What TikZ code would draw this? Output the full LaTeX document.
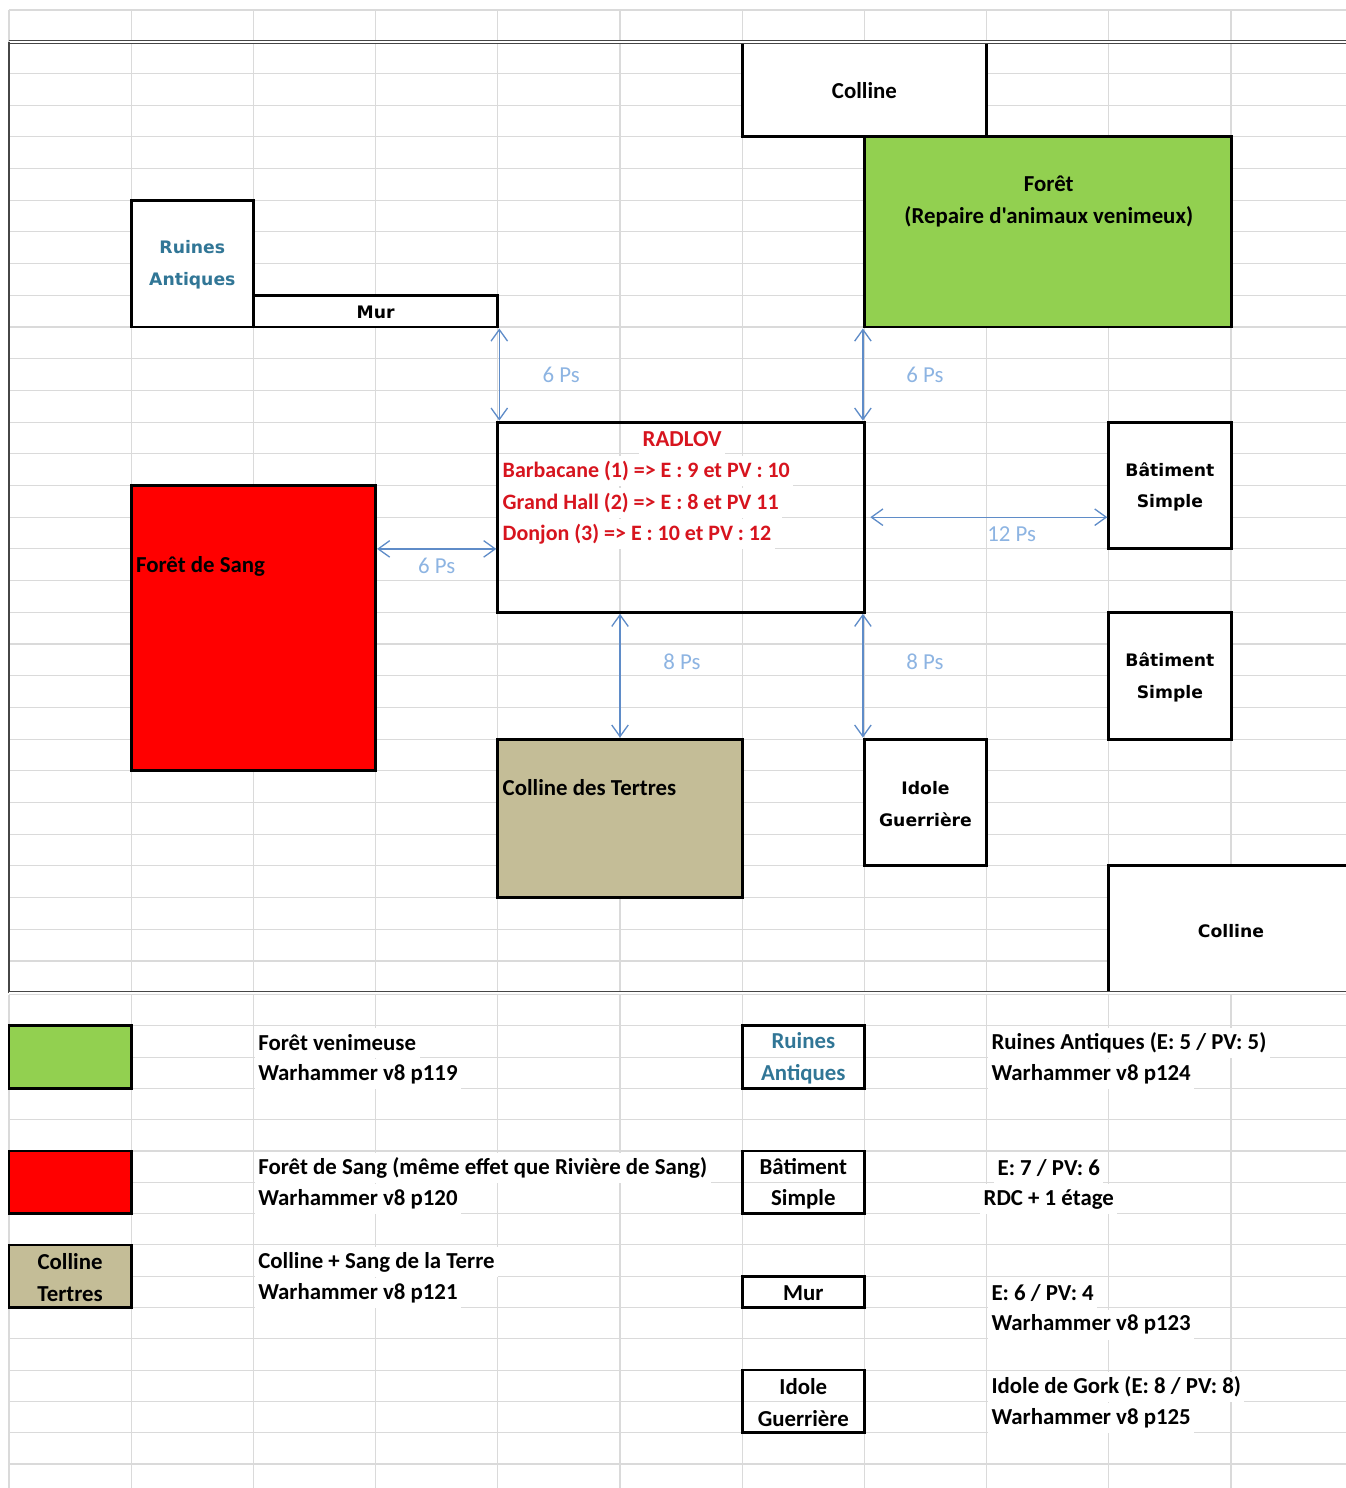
\documentclass[tikz,border=0pt]{standalone}
\usepackage{fontspec}
\setmainfont{Carlito}[Ligatures=TeXOff]
\newfontfamily\verdfont{DejaVu Sans}
\usepackage{tikz}
\usetikzlibrary{arrows.meta,positioning,fit,calc}
\definecolor{gridgray}{RGB}{218,218,218}
\definecolor{framegray}{RGB}{70,70,70}
\definecolor{foretvert}{RGB}{146,208,80}
\definecolor{sangrouge}{RGB}{255,0,0}
\definecolor{tertresbeige}{RGB}{196,189,151}
\definecolor{ruinesblue}{RGB}{49,118,150}
\definecolor{radlovred}{RGB}{215,20,30}
\definecolor{arrowblue}{RGB}{95,140,200}
\definecolor{psblue}{RGB}{141,180,226}
\newcommand{\calBold}{\fontsize{13}{18.1}\selectfont\bfseries}
\newcommand{\calReg}{\fontsize{13}{18.1}\selectfont}
\newcommand{\radlovFont}{\fontsize{12.5}{18.1}\selectfont\bfseries}
\newcommand{\verdBold}{\verdfont\fontsize{9.8}{18.1}\selectfont\bfseries}

\begin{document}
\begin{tikzpicture}[x=2.444cm, y=-0.634cm,
		gridline/.style={draw=gridgray, line width=0.6pt, xstep=2.444cm, ystep=0.634cm},
		frameline/.style={draw=framegray, line width=0.65pt},
		terrain/.style={draw=black, line width=1.7pt, inner sep=0pt},
		merged/.style={terrain, fill=white},
		legbox/.style={draw=black, line width=1.5pt, inner sep=0pt},
		shapeText/.style={align=center, font=\verdBold, inner sep=0pt, yshift=-0.8pt},
		legText/.style={align=center, font=\calBold, inner sep=0pt, yshift=-0.8pt},
		cellText/.style={fill=white, inner xsep=2pt, inner ysep=0pt, minimum height=0.6cm, font=\calBold, xshift=0.6pt, yshift=-0.8pt},
		plainText/.style={inner xsep=2pt, inner ysep=0pt, font=\calBold, xshift=0.6pt, yshift=-0.8pt},
		dist/.style={draw=arrowblue, line width=0.75pt, {Straight Barb[length=2.3mm,width=3.3mm]}-{Straight Barb[length=2.3mm,width=3.3mm]}},
		distLabel/.style={text=psblue, font=\calReg, inner sep=0pt},
		]
		
		\useasboundingbox (-0.18cm,0.2cm) rectangle (26.72cm,-29.56cm);
		
		% sheet grid
		\draw[gridline] (0,31) grid (11,0);
		
		% map
		\node[merged, fit={(6,1) (8,4)}, label={[legText]center:Colline}] (collineA) {};
		\node[terrain, fill=foretvert, fit={(7,4) (10,10)}] (foret) {};
		\node[plainText, align=center] (foretTxt) at (8.5,6) {Forêt\\(Repaire d'animaux venimeux)};
		
		\node[merged, fit={(1,6) (2,10)}, label={[shapeText, text=ruinesblue]center:Ruines\\Antiques}] (ruines) {};
		\node[merged, fit={(2,9) (4,10)}, label={[shapeText]center:Mur}] (mur) {};
		
		\node[cellText, text=radlovred] (radlovT) at (5.5,13.5) {RADLOV};
		\node[cellText, text=radlovred, anchor=west, font=\radlovFont] (barbacane) at (4,14.5) {Barbacane (1) => E : 9 et PV : 10};
		\node[cellText, text=radlovred, anchor=west, font=\radlovFont] (grandHall) at (4,15.5) {Grand Hall (2) => E : 8 et PV 11};
		\node[cellText, text=radlovred, anchor=west, font=\radlovFont] (donjon) at (4,16.5) {Donjon (3) => E : 10 et PV : 12};
		\node[terrain, fit={(4,13) (7,19)}] (radlov) {};
		
		\node[terrain, fill=sangrouge, fit={(1,15) (3,24)}] (sang) {};
		\node[plainText, anchor=west] (sangTxt) at (1,17.5) {Forêt de Sang};
		
		\node[terrain, fill=tertresbeige, fit={(4,23) (6,28)}] (tertres) {};
		\node[plainText, anchor=west] (tertresTxt) at (4,24.5) {Colline des Tertres};
		
		\node[merged, fit={(7,23) (8,27)}, label={[shapeText]center:Idole\\Guerrière}] (idole) {};
		\node[merged, fit={(9,13) (10,17)}, label={[shapeText]center:Bâtiment\\Simple}] (bat1) {};
		\node[merged, fit={(9,19) (10,23)}, label={[shapeText]center:Bâtiment\\Simple}] (bat2) {};
		\node[merged, fit={(9,27) (11,31)}] (collineB) {};
		\node[shapeText] (collineBTxt) at (10,29) {Colline};
		
		% distances
		\draw[dist] (mur.south east) -- (mur.south east |- radlov.north) node[midway, distLabel, xshift=1.24cm]{6 Ps};
		\draw[dist] (foret.south west) -- (foret.south west |- radlov.north) node[midway, distLabel, xshift=1.24cm]{6 Ps};
		\draw[dist] (sang.east |- 0,17) -- (radlov.west |- 0,17) node[midway, distLabel, yshift=-0.34cm]{6 Ps};
		\draw[dist, shorten <=2.5pt] (radlov.east) -- (bat1.west |- radlov.east) node[midway, distLabel, xshift=0.5cm, yshift=-0.34cm]{12 Ps};
		\draw[dist] (tertres.north) -- (tertres.north |- radlov.south) node[midway, distLabel, xshift=1.24cm, yshift=0.28cm]{8 Ps};
		\draw[dist] (idole.north west) -- (idole.north west |- radlov.south) node[midway, distLabel, xshift=1.24cm, yshift=0.28cm]{8 Ps};
		
		% print frame
		\draw[frameline, double, double distance=1.1pt] (0,1) -- (11,1);
		\draw[frameline] (0,1) -- (0,31);
		\draw[frameline, double, double distance=1.1pt] (0,31) -- (11,31);
		
		% legend
		\begin{scope}[shift={(0,-19.69cm)}, y=-0.626cm]
			\draw[gridline, ystep=0.626cm] (0,16) grid (11,0);
			
			\node[cellText, anchor=west] (lgForet1) at (2,1.5) {Forêt venimeuse};
			\node[cellText, anchor=west] (lgForet2) at (2,2.5) {Warhammer v8 p119};
			\node[cellText, anchor=west] (lgSang1) at (2,5.5) {Forêt de Sang (même effet que Rivière de Sang)};
			\node[cellText, anchor=west] (lgSang2) at (2,6.5) {Warhammer v8 p120};
			\node[cellText, anchor=west] (lgTertres1) at (2,8.5) {Colline + Sang de la Terre};
			\node[cellText, anchor=west] (lgTertres2) at (2,9.5) {Warhammer v8 p121};
			
			\node[cellText, anchor=west] (lgRuines1) at (8,1.5) {Ruines Antiques (E: 5 / PV: 5)};
			\node[cellText, anchor=west] (lgRuines2) at (8,2.5) {Warhammer v8 p124};
			\node[cellText] (lgBat1) at (8.5,5.5) {E: 7 / PV: 6};
			\node[cellText] (lgBat2) at (8.5,6.5) {RDC + 1 étage};
			\node[cellText, anchor=west] (lgMur1) at (8,9.5) {E: 6 / PV: 4};
			\node[cellText, anchor=west] (lgMur2) at (8,10.5) {Warhammer v8 p123};
			\node[cellText, anchor=west] (lgIdole1) at (8,12.5) {Idole de Gork (E: 8 / PV: 8)};
			\node[cellText, anchor=west] (lgIdole2) at (8,13.5) {Warhammer v8 p125};
			
			\node[legbox, fill=foretvert, fit={(0,1) (1,3)}] (lgForet) {};
			\node[legbox, fill=sangrouge, fit={(0,5) (1,7)}] (lgSang) {};
			\node[legbox, fill=tertresbeige, fit={(0,8) (1,10)}, label={[legText]center:Colline\\Tertres}] (lgTertres) {};
			
			\node[legbox, fit={(6,1) (7,3)}, label={[legText, text=ruinesblue]center:Ruines\\Antiques}] (lgRuines) {};
			\node[legbox, fit={(6,5) (7,7)}, label={[legText]center:Bâtiment\\Simple}] (lgBat) {};
			\node[legbox, fit={(6,9) (7,10)}, label={[legText]center:Mur}] (lgMur) {};
			\node[legbox, fit={(6,12) (7,14)}, label={[legText]center:Idole\\Guerrière}] (lgIdole) {};
		\end{scope}
		
\end{tikzpicture}
\end{document}
